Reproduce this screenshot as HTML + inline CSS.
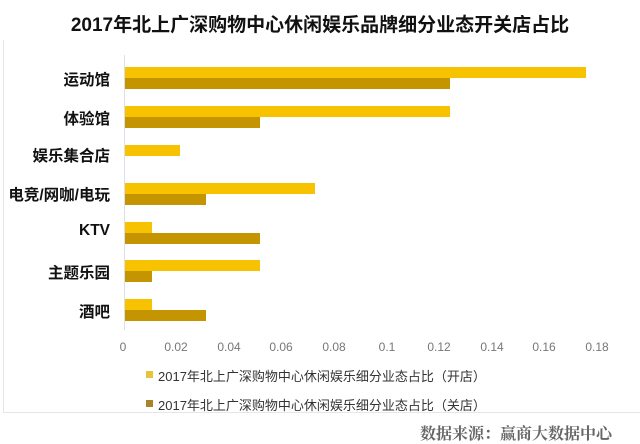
<!DOCTYPE html>
<html><head><meta charset="utf-8"><style>
body{margin:0;background:#fff;}
#c{position:relative;width:640px;height:444px;overflow:hidden;font-family:"Liberation Sans","Noto Sans CJK SC",sans-serif;}
.t{position:absolute;white-space:nowrap;}
.b{position:absolute;height:11px;}
.o{background:#F7C300;}
.k{background:#C49500;}
.lab{position:absolute;right:530px;font-weight:bold;font-size:15.5px;color:#111;white-space:nowrap;}
.tick{position:absolute;top:340px;font-size:12px;color:#777;transform:translateX(-50%);}
</style></head><body><div id="c">
<div style="position:absolute;left:3px;top:40px;width:1px;height:373px;background:#e6e6e6"></div>
<div style="position:absolute;left:3px;top:412px;width:637px;height:1px;background:#e6e6e6"></div>
<div class="t" style="left:0;width:640px;text-align:center;top:10px;font-size:19px;font-weight:bold;color:#111">2017年北上广深购物中心休闲娱乐品牌细分业态开关店占比</div>
<div style="position:absolute;left:124px;top:55px;width:1px;height:275px;background:#dde"></div>
<div class="lab" style="top:68px">运动馆</div>
<div class="lab" style="top:107px">体验馆</div>
<div class="lab" style="top:144px">娱乐集合店</div>
<div class="lab" style="top:183px">电竞/网咖/电玩</div>
<div class="lab" style="top:222px">KTV</div>
<div class="lab" style="top:261px">主题乐园</div>
<div class="lab" style="top:300px">酒吧</div>
<div class="b o" style="left:125px;top:67px;width:461px"></div>
<div class="b k" style="left:125px;top:78px;width:325px"></div>
<div class="b o" style="left:125px;top:106px;width:325px"></div>
<div class="b k" style="left:125px;top:117px;width:135px"></div>
<div class="b o" style="left:125px;top:145px;width:55px"></div>
<div class="b o" style="left:125px;top:183px;width:190px"></div>
<div class="b k" style="left:125px;top:194px;width:81px"></div>
<div class="b o" style="left:125px;top:222px;width:27px"></div>
<div class="b k" style="left:125px;top:233px;width:135px"></div>
<div class="b o" style="left:125px;top:260px;width:135px"></div>
<div class="b k" style="left:125px;top:271px;width:27px"></div>
<div class="b o" style="left:125px;top:299px;width:27px"></div>
<div class="b k" style="left:125px;top:310px;width:81px"></div>
<div class="tick" style="left:123px">0</div>
<div class="tick" style="left:176px">0.02</div>
<div class="tick" style="left:229px">0.04</div>
<div class="tick" style="left:281px">0.06</div>
<div class="tick" style="left:334px">0.08</div>
<div class="tick" style="left:387px">0.1</div>
<div class="tick" style="left:439px">0.12</div>
<div class="tick" style="left:492px">0.14</div>
<div class="tick" style="left:544px">0.16</div>
<div class="tick" style="left:597px">0.18</div>
<div style="position:absolute;left:146px;top:371px;width:7px;height:7px;background:#E8C43A"></div>
<div class="t" style="left:158px;top:366px;font-size:13px;color:#333">2017年北上广深购物中心休闲娱乐细分业态占比（开店）</div>
<div style="position:absolute;left:146px;top:400px;width:7px;height:7px;background:#A9832A"></div>
<div class="t" style="left:158px;top:395px;font-size:13px;color:#333">2017年北上广深购物中心休闲娱乐细分业态占比（关店）</div>
<div class="t" style="right:28px;top:421px;font-size:16px;color:#666;font-family:'Liberation Serif','Noto Serif CJK SC',serif;font-weight:bold">数据来源：赢商大数据中心</div>
</div></body></html>
